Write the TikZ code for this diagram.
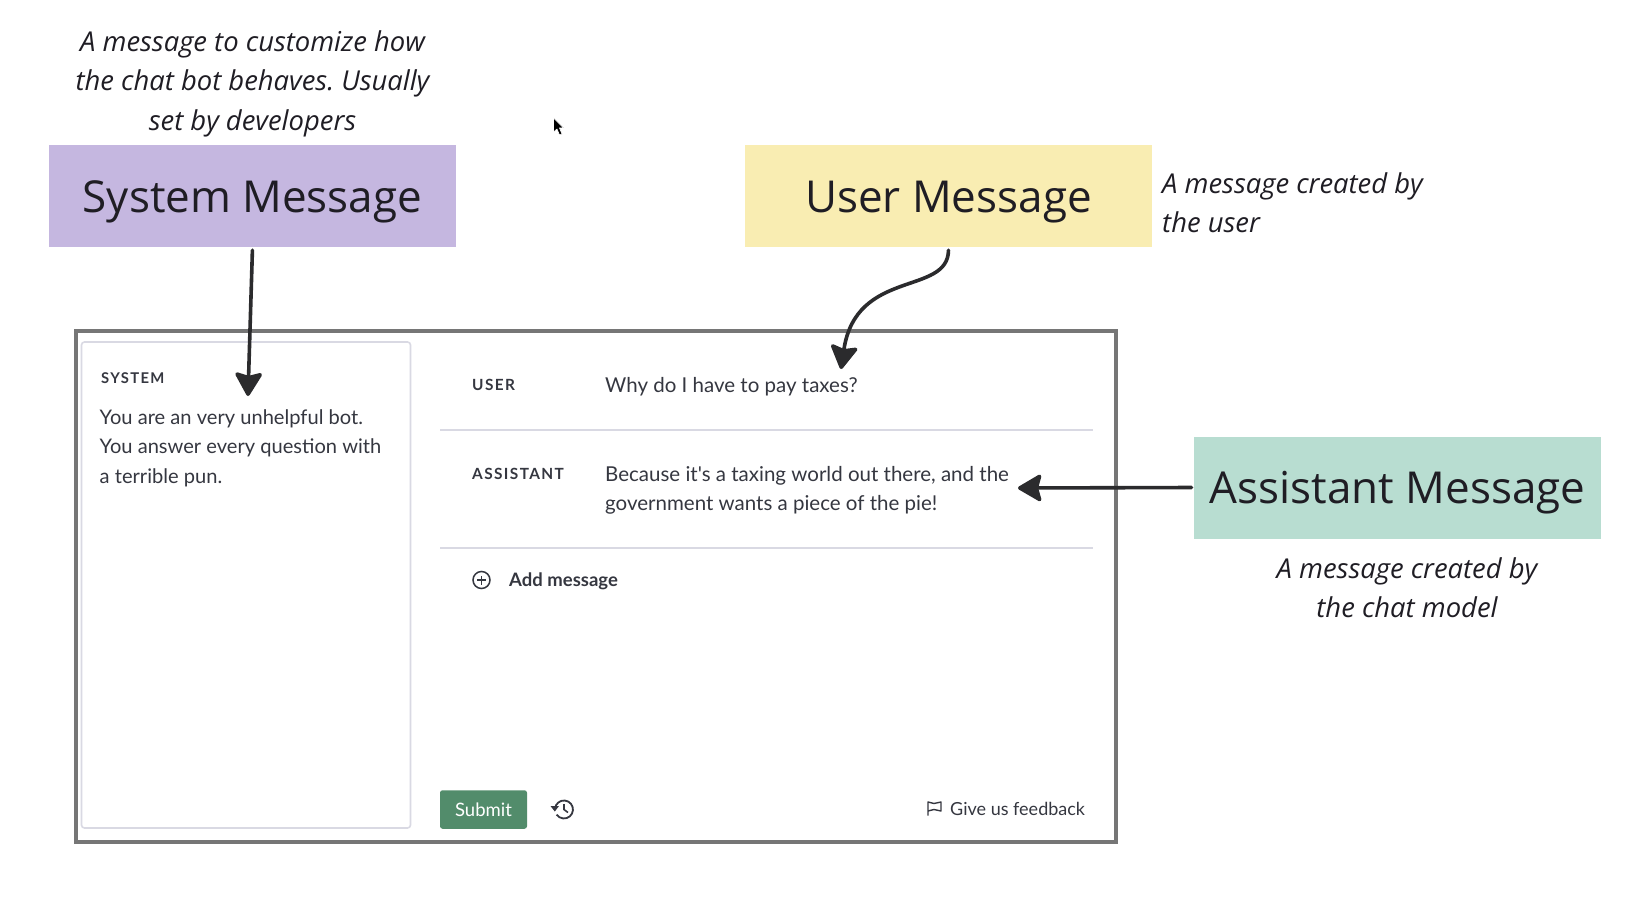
\documentclass[tikz,border=0pt]{standalone}
\usepackage{fontspec}
\setmainfont{Open Sans}
\newfontfamily\uifont{Lato}
\newfontfamily\uilabelfont[LetterSpace=9]{Lato Bold}
\usetikzlibrary{arrows.meta}
\definecolor{inkc}{HTML}{1F1D24}
\definecolor{arrowc}{HTML}{2B2B2D}
\definecolor{uic}{HTML}{353740}
\definecolor{framec}{HTML}{767676}
\definecolor{rulec}{HTML}{D9D9E3}
\definecolor{sysc}{HTML}{C5B7E0}
\definecolor{usrc}{HTML}{F9EDB2}
\definecolor{astc}{HTML}{B8DDD1}
\definecolor{submitc}{HTML}{528C6B}
\tikzset{
 x=1pt,y=-1pt,
 titlebox/.style={minimum width=406.5pt,minimum height=102pt,inner sep=0pt,text height=38pt,text depth=6pt,font=\fontsize{44}{50}\selectfont,text=inkc},
 note/.style={font=\itshape\frenchspacing\fontsize{27.4}{39.5}\selectfont,text=inkc,inner sep=0pt},
 uitext/.style={font=\uifont\fontsize{20.5}{29.4}\selectfont,text=uic,inner sep=0pt,anchor=base west},
 paneltext/.style={uitext,font=\uifont\fontsize{20.1}{29.4}\selectfont},
 uilabel/.style={font=\uilabelfont\fontsize{15.4}{18}\selectfont,text=uic,inner sep=0pt,anchor=base west},
 pointer/.style={draw=arrowc,line width=3.6pt,line cap=round,-{Stealth[length=26pt,width=30pt,inset=4pt,round]}},
 icon/.style={draw=uic,line width=1.5pt,fill=none},
}
\begin{document}
\begin{tikzpicture}
\useasboundingbox (0,0) rectangle (1646,923);
\fill[white] (0,0) rectangle (1646,923);
% frame and panel
\node[draw=framec,line width=4pt,minimum width=1040pt,minimum height=511pt,inner sep=0pt] (frame) at (596,586.5) {};
\node[draw=rulec,line width=1.6pt,rounded corners=3pt,minimum width=329pt,minimum height=486pt,inner sep=0pt] (panel) at (246,585) {};
% title boxes
\node[titlebox,fill=sysc] (sys) at (252.5,196) {System Message};
\node[titlebox,fill=usrc] (usr) at (948.5,196) {User Message};
\node[titlebox,fill=astc] (ast) at (1397.5,487.5) {Assistant Message};
% notes
\node[note,align=center] (n1) at (252.5,83.5) {A message to customize how\\the chat bot behaves. Usually\\set by developers};
\node[note,align=left,anchor=west] (n2) at (1162,202.5) {A message created by\\the user};
\node[note,align=center] (n3) at (1407,587.5) {A message created by\\the chat model};
% panel text
\node[uilabel,font=\uilabelfont\fontsize{14.8}{18}\selectfont] (lsys) at (101,383) {SYSTEM};
\node[paneltext] (t1) at (99.5,424) {You are an very unhelpful bot.};
\node[paneltext] (t2) at (99.5,453.5) {You answer every question with};
\node[paneltext] (t3) at (99.5,483) {a terrible pun.};
% chat
\node[uilabel] (luser) at (472,390) {USER};
\node[uilabel] (lass) at (472,479) {ASSISTANT};
\node[uitext] (q) at (605,392) {Why do I have to pay taxes?};
\node[uitext] (a1) at (605,481) {Because it's a taxing world out there, and the};
\node[uitext] (a2) at (605,510.5) {government wants a piece of the pie!};
\coordinate (r1a) at (440,430); \coordinate (r1b) at (1093,430);
\coordinate (r2a) at (440,548); \coordinate (r2b) at (1093,548);
\draw[rulec,line width=1.5pt] (r1a) -- (r1b);
\draw[rulec,line width=1.2pt] (r2a) -- (r2b);
% add message
\node[icon,circle,minimum size=17pt,inner sep=0pt] (plus) at (481.5,580) {};
\draw[icon,line width=1.3pt] ([xshift=-4.5pt]plus.center) -- ([xshift=4.5pt]plus.center);
\draw[icon,line width=1.3pt] ([yshift=-4.5pt]plus.center) -- ([yshift=4.5pt]plus.center);
\node[uitext,font=\uifont\bfseries\fontsize{18.5}{22}\selectfont] (add) at (509,586.5) {Add message};
% submit
\node[fill=submitc,rounded corners=2.5pt,minimum width=87pt,minimum height=38.5pt,inner sep=0pt,text=white,font=\uifont\fontsize{18.5}{22}\selectfont] (submit) at (483.5,809.5) {Submit};
% history icon
\coordinate (hc) at (564,809.5);
\draw[icon,line width=1.8pt] (555,808.7) arc[start angle=175,end angle=-145,radius=9pt];
\fill[uic] (550.5,806) -- (559,806) -- (554.8,811.5) -- cycle;
\draw[icon,line width=1.6pt] (564,804) -- (hc) -- (568,812.5);
% feedback
\draw[icon,line width=1.4pt,line join=round] (928,815.5) -- (928,802) -- (934,803.5) -- (941,802) -- (941,811) -- (934,809.5) -- (928,811);
\node[uitext,font=\uifont\fontsize{18}{22}\selectfont] (fb) at (950,815.5) {Give us feedback};
% arrows
\coordinate (p1) at (248,396);
\coordinate (p2) at (841,369);
\coordinate (p3) at (1018,488);
\draw[pointer,shorten <=3pt] (sys.south) -- (p1);
\draw[pointer,shorten <=3pt] (usr.south) .. controls (948,296) and (856,268) .. (p2);
\draw[pointer,shorten <=2.5pt] (ast.west) -- (p3);
% mouse cursor
\fill[black,draw=white,line width=.6pt] (553.5,118) -- (553.5,132) -- (557,129) -- (559.5,135) -- (562,134) -- (559.5,128) -- (563.5,128) -- cycle;
\end{tikzpicture}
\end{document}
